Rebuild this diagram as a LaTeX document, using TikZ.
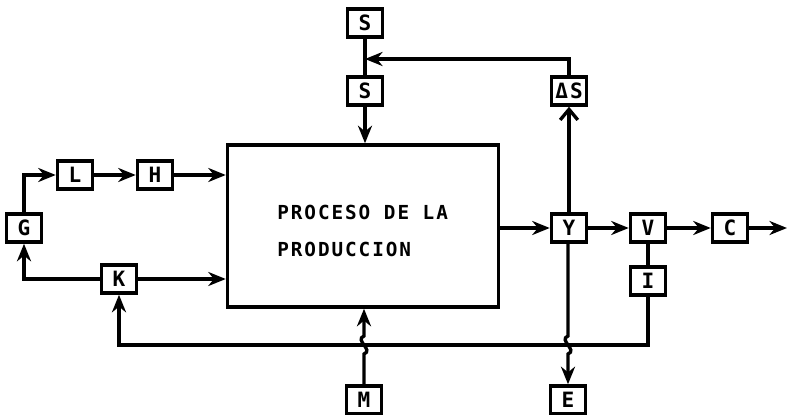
\documentclass[tikz,border=0pt]{standalone}
\usepackage{fontspec}
\newfontfamily\plotfont[LetterSpace=10]{DejaVu Sans Mono}
\usetikzlibrary{arrows.meta}

\begin{document}
\begin{tikzpicture}[
    x=0.02cm, y=-0.02cm,
    blk/.style={draw, rectangle, line width=2pt,
                minimum width=0.70cm, minimum height=0.56cm,
                inner sep=1pt, font=\plotfont\bfseries\fontsize{12}{13}\selectfont},
    proc/.style={draw, rectangle, line width=2pt, minimum width=5.42cm,
                minimum height=3.24cm},
    lbl/.style={font=\plotfont\bfseries\fontsize{11}{13}\selectfont, anchor=west, inner sep=0pt},
    flow/.style={-{Stealth[length=10pt,width=8pt]}, line width=1.9pt},
    line/.style={line width=1.9pt},
    >=Stealth
]
\useasboundingbox (0,0) rectangle (790,415);
%% Central process block
\node[proc] (prod) at (363,226) {};
\node[lbl] (t1) at (277,212) {PROCESO DE LA};
\node[lbl] (t2) at (277,249) {PRODUCCION};
%% Input side
\node[blk] (G) at (24,228) {G};
\node[blk] (L) at (75,175) {L};
\node[blk] (H) at (155,175) {H};
\node[blk] (K) at (119,279) {K};
\node[blk] (M) at (364,400) {M};
%% Stock blocks on top
\node[blk] (S0) at (365,23) {S};
\node[blk] (S1) at (365,91) {S};
\node[blk] (dS) at (569,91) {ΔS};
%% Output side
\node[blk] (Y) at (569,228) {Y};
\node[blk] (V) at (648,228) {V};
\node[blk] (C) at (730,228) {C};
\node[blk] (I) at (648,281) {I};
\node[blk] (E) at (568,400) {E};
\coordinate (out) at (787,228);
\coordinate (fbl) at (119,345);
\coordinate (fbr) at (648,345);
\coordinate (join) at (365,59);
%% Arrows: left loop
\draw[flow] (G.north) |- (L.west);
\draw[flow] (L) -- (H);
\draw[flow] (H.east) -- (H.east -| prod.west);
\draw[flow] (K.west) -| (G.south);
\draw[flow] (K.east) -- (K.east -| prod.west);
%% Arrows: stocks
\draw[line] (S0) -- (S1);
\draw[flow] (S1.south) -- (S1.south |- prod.north);
\draw[flow] (dS.north) |- (join);
%% Arrows: outputs
\draw[flow] (Y.west -| prod.east) -- (Y.west);
\draw[-{Straight Barb[length=6pt,width=10pt]}, line width=1.9pt] (Y.north) -- (dS.south);
\draw[flow] (Y) -- (V);
\draw[flow] (V) -- (C);
\draw[flow] (C) -- (out);
\draw[line] (V) -- (I);
%% Feedback to K, with jumps over the crossing lines
\draw[flow] (I.south) -- (fbr) -- (fbl) -- (K.south);
\draw[flow] (M.north) -- (364,354) .. controls (374,350) and (354,340) .. (364,336)
    -- (M.north |- prod.south);
\draw[flow] (Y.south -| E.north) -- (568,336) .. controls (558,340) and (578,350) .. (568,354)
    -- (E.north);
\end{tikzpicture}
\end{document}
